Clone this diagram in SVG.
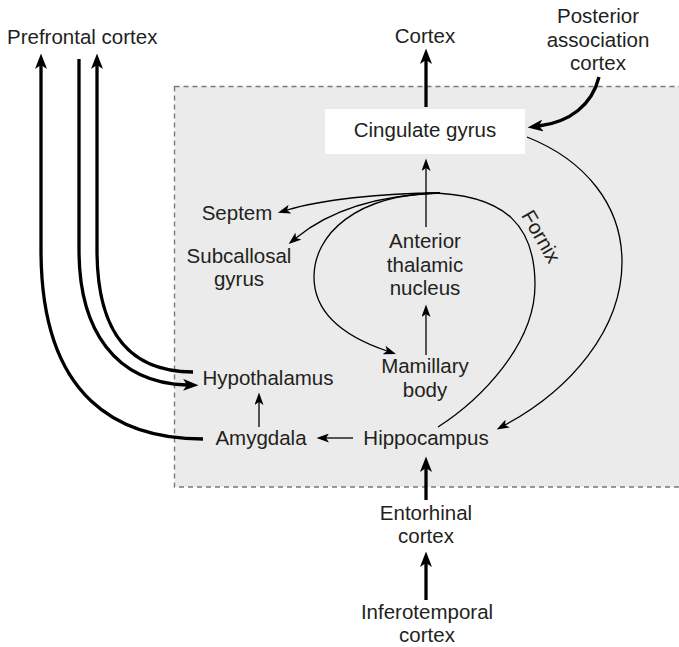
<svg xmlns="http://www.w3.org/2000/svg" width="679" height="647" viewBox="0 0 679 647">
<style>
text{font-family:"Liberation Sans",Arial,sans-serif;font-size:20.5px;fill:#231f20;text-anchor:middle}
.thin{fill:none;stroke:#000;stroke-width:1.3}
.thick{fill:none;stroke:#000;stroke-width:3.3}
.ta{marker-end:url(#ah)}
.tk{marker-end:url(#ahk)}
</style>
<defs>
<marker id="ah" markerUnits="userSpaceOnUse" markerWidth="13" markerHeight="9" refX="3" refY="4.5" orient="auto" viewBox="0 0 13 9">
<path d="M0,0 L12.5,4.5 L0,9 L3,4.5 z" fill="#000"/>
</marker>
<marker id="ahk" markerUnits="userSpaceOnUse" markerWidth="16" markerHeight="12" refX="4" refY="6" orient="auto" viewBox="0 0 16 12">
<path d="M0,0 L15.5,6 L0,12 L4,6 z" fill="#000"/>
</marker>
</defs>
<rect id="region" x="174.5" y="86.5" width="520" height="400.5" fill="#ebebeb" stroke="#7a7a7a" stroke-width="1.4" stroke-dasharray="5,4"/>
<g id="cingulate">
<rect x="325" y="109" width="200" height="45" fill="#fff"/>
<text x="425" y="137">Cingulate gyrus</text>
</g>
<g id="prefrontal"><text x="7" y="44" style="text-anchor:start">Prefrontal cortex</text></g>
<g id="cortex"><text x="425" y="43">Cortex</text></g>
<g id="posterior"><text x="598" y="23">Posterior</text><text x="598" y="47">association</text><text x="598" y="70">cortex</text></g>
<g id="septem"><text x="237" y="220">Septem</text></g>
<g id="subcallosal"><text x="239" y="263">Subcallosal</text><text x="239" y="286">gyrus</text></g>
<g id="anterior"><text x="425" y="248">Anterior</text><text x="425" y="272">thalamic</text><text x="425" y="295">nucleus</text></g>
<g id="mamillary"><text x="425" y="373">Mamillary</text><text x="425" y="397">body</text></g>
<g id="hypothalamus"><text x="268" y="385">Hypothalamus</text></g>
<g id="amygdala"><text x="261" y="445">Amygdala</text></g>
<g id="hippocampus"><text x="426" y="445">Hippocampus</text></g>
<g id="entorhinal"><text x="426" y="520">Entorhinal</text><text x="426" y="543">cortex</text></g>
<g id="inferotemporal"><text x="427" y="619">Inferotemporal</text><text x="427" y="642">cortex</text></g>
<g id="fornix-label"><text transform="translate(535,240) rotate(60)">Fornix</text></g>
<g id="connectors">
<path class="thick tk" d="M426,107 L426,60"/>
<path class="thick tk" d="M599,77 C592,105 570,122 539,126"/>
<path class="thin ta" d="M527,137 C585,160 622,205 622,262 C622,330 570,390 505,425"/>
<path class="thin" d="M438,427 C480,400 535,345 535,285 C535,230 510,193 425,193"/>
<path class="thin ta" d="M440,193 C380,193 320,200 287,210"/>
<path class="thin ta" d="M440,193 C380,195 330,210 296,238"/>
<path class="thin ta" d="M440,193 C355,194 314,235 314,277 C314,310 340,335 387,351"/>
<path class="thin ta" d="M426,227 L426,168"/>
<path class="thin ta" d="M426,355 L426,314"/>
<path class="thin ta" d="M259,427 L259,402"/>
<path class="thin ta" d="M353,438 L326,438"/>
<path class="thick tk" d="M426,500 L426,468"/>
<path class="thick tk" d="M426,600 L426,563"/>
<path class="thick tk" d="M203,439 C120,439 41,400 41,250 L41,65"/>
<path class="thick tk" d="M79,59 L79,250 C79,330 115,383 187,385"/>
<path class="thick tk" d="M193,372 C120,372 97,320 97,250 L97,65"/>
</g>
</svg>
